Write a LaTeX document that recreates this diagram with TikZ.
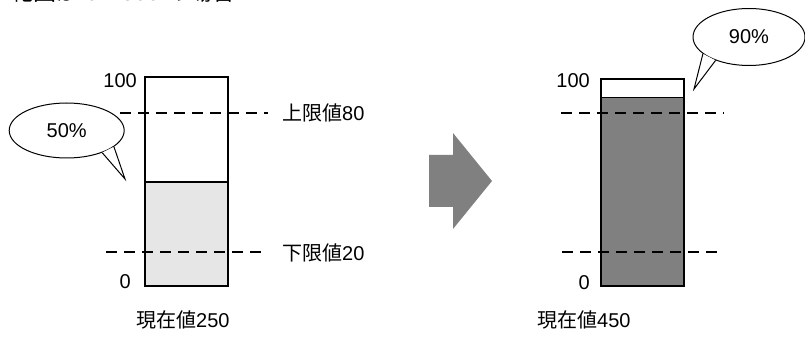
\documentclass[tikz,border=0pt]{standalone}
\usepackage{fontspec}
\setmainfont{Liberation Sans}
\newfontfamily\cjk{Noto Sans CJK JP}
\usetikzlibrary{shapes.geometric}
\definecolor{lightfill}{HTML}{E6E6E6}
\definecolor{darkfill}{HTML}{808080}
\begin{document}
\begin{tikzpicture}[x=1pt,y=-1pt,
  lbl/.style={font=\fontsize{20}{24}\selectfont, inner sep=0pt},
  barframe/.style={draw=black, line width=2pt},
  divider/.style={draw=black, line width=1.5pt},
  limline/.style={line width=2pt, dash pattern=on 11pt off 7pt},
  bubble/.style={ellipse, draw=black, fill=white, line width=1pt, inner sep=0pt, font=\fontsize{20}{24}\selectfont},
  tail/.style={draw=black, line width=1pt, line join=miter},
  ]
\useasboundingbox (0,0) rectangle (805,347);

% partially visible title
\node[inner sep=0pt, font=\fontsize{23}{27}\selectfont, anchor=base west] (title) at (10,0.8) {{\cjk 範囲が} 0{\cjk ～}500 {\cjk の場合}};

% ---------- left bar ----------
\fill[lightfill] (145,182) rectangle (228,285.7);
\draw[divider] (145,182) -- (228,182);
\draw[barframe] (145,77.3) rectangle (228,285.7);
\coordinate (lu1) at (120,113);
\coordinate (lu2) at (268,113);
\coordinate (ll1) at (106,252);
\coordinate (ll2) at (268,252);
\draw[limline] (lu1) -- (lu2);
\draw[limline] (ll1) -- (ll2);
\node[lbl, anchor=east] (l100) at (137,80.7) {100};
\node[lbl, anchor=east] (l0) at (131,281.7) {0};
\node[lbl, anchor=west] (lup) at (282,113) {{\cjk 上限値}80};
\node[lbl, anchor=west] (llo) at (282,252.7) {{\cjk 下限値}20};
\node[lbl, anchor=west] (lcur) at (136,320) {{\cjk 現在値}250};

% left bubble
\node[bubble, minimum width=115pt, minimum height=55pt] (b1) at (66.7,130.5) {50\%};
\coordinate (t1) at (125,179);
\fill[white] (b1.-32) -- (t1) -- (b1.-19) -- cycle;
\draw[tail] (b1.-32) -- (t1) -- (b1.-19);

% ---------- arrow ----------
\fill[darkfill] (429,155) -- (453,155) -- (453,133) -- (492,181) -- (453,229) -- (453,207) -- (429,207) -- cycle;

% ---------- right bar ----------
\fill[darkfill] (601,97.7) rectangle (684,286);
\draw[divider] (601,97.7) -- (684,97.7);
\draw[barframe] (601,79) rectangle (684,286);
\coordinate (ru1) at (561,113);
\coordinate (ru2) at (724,113);
\coordinate (rl1) at (562,252);
\coordinate (rl2) at (724,252);
\draw[limline] (ru1) -- (ru2);
\draw[limline] (rl1) -- (rl2);
\node[lbl, anchor=east] (r100) at (590,81) {100};
\node[lbl, anchor=east] (r0) at (590,283) {0};
\node[lbl, anchor=west] (rcur) at (537,320) {{\cjk 現在値}450};

% right bubble
\node[bubble, minimum width=112pt, minimum height=57pt] (b2) at (749,37) {90\%};
\coordinate (t2) at (694,89);
\fill[white] (b2.200) -- (t2) -- (b2.215) -- cycle;
\draw[tail] (b2.200) -- (t2) -- (b2.215);
\end{tikzpicture}
\end{document}
